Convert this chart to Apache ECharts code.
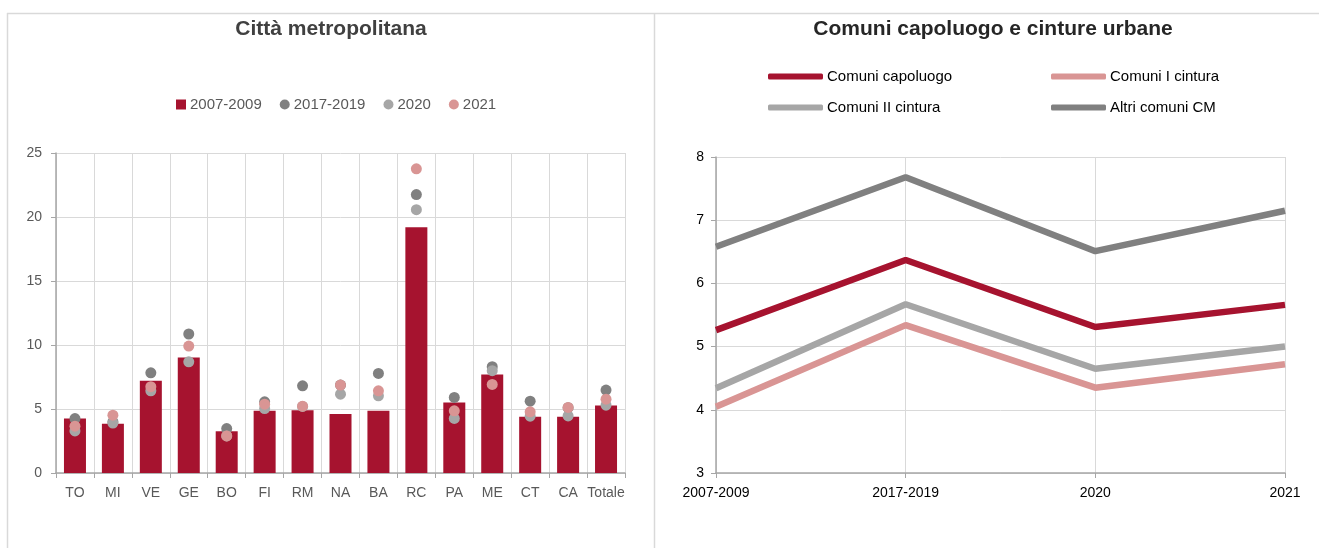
<!DOCTYPE html>
<html>
<head>
<meta charset="utf-8">
<script src="https://cdn.jsdelivr.net/npm/echarts@6/dist/echarts.min.js"></script>
<style>
  html, body { margin: 0; padding: 0; background: #fff; }
  #chart { width: 1319px; height: 558px; }
</style>
</head>
<body>
<div id="chart"></div>
<script>
// dati - grafico a sinistra (Città metropolitana)
const cities = ['TO', 'MI', 'VE', 'GE', 'BO', 'FI', 'RM', 'NA', 'BA', 'RC', 'PA', 'ME', 'CT', 'CA', 'Totale'];
const val0709 = [4.25, 3.85, 7.2, 9.03, 3.26, 4.86, 4.91, 4.6, 4.86, 19.2, 5.51, 7.7, 4.39, 4.39, 5.27];
const val1719 = [4.25, 4.0, 7.83, 10.86, 3.47, 5.56, 6.81, 6.87, 7.78, 21.75, 5.9, 8.3, 5.61, 5.1, 6.48];
const val2020 = [3.29, 3.9, 6.42, 8.69, 2.9, 5.04, 5.2, 6.16, 6.03, 20.57, 4.26, 7.99, 4.44, 4.46, 5.3];
const val2021 = [3.66, 4.52, 6.74, 9.92, 2.9, 5.38, 5.22, 6.87, 6.42, 23.76, 4.86, 6.92, 4.78, 5.12, 5.77];
const leftTicks = [0, 5, 10, 15, 20, 25];

// dati - grafico a destra (Comuni capoluogo e cinture urbane)
const periods = ['2007-2009', '2017-2019', '2020', '2021'];
const capoluogo = [5.26, 6.37, 5.31, 5.66];
const cintura1 = [4.05, 5.34, 4.35, 4.72];
const cintura2 = [4.34, 5.67, 4.65, 5.0];
const altriCM = [6.58, 7.68, 6.51, 7.15];
const rightTicks = [3, 4, 5, 6, 7, 8];

const FONT = '"Liberation Sans", Arial, sans-serif';
const RED = '#A6132F';
const DARK = '#808080';
const GRAY = '#A6A6A6';
const PINK = '#D99594';
const GRID_LINE = '#D9D9D9';
const AXIS_LINE = '#A6A6A6';

const chart = echarts.init(document.getElementById('chart'));

const option = {
    animation: false,
    textStyle: { fontFamily: FONT },
    title: [
        {
            text: 'Città metropolitana',
            left: 331, top: 19, padding: 0, textAlign: 'center',
            textStyle: { fontFamily: FONT, fontSize: 21, fontWeight: 'bold', color: '#404040' }
        },
        {
            text: 'Comuni capoluogo e cinture urbane',
            left: 993, top: 19, padding: 0, textAlign: 'center',
            textStyle: { fontFamily: FONT, fontSize: 21, fontWeight: 'bold', color: '#262626' }
        }
    ],
    legend: [
        {
            left: 176, top: 97, padding: 0,
            itemWidth: 10, itemHeight: 10, itemGap: 18,
            textStyle: { fontFamily: FONT, fontSize: 15, color: '#595959', padding: [0, 0, 0, -1] },
            data: [
                { name: '2007-2009', icon: 'rect' },
                { name: '2017-2019', icon: 'circle' },
                { name: '2020', icon: 'circle' },
                { name: '2021', icon: 'circle' }
            ]
        },
        {
            orient: 'vertical', left: 768, top: 69, padding: 0,
            itemWidth: 55, itemHeight: 6, itemGap: 16,
            textStyle: { fontFamily: FONT, fontSize: 15, color: '#000', padding: [0, 0, 0, -1] },
            data: [
                { name: 'Comuni capoluogo', icon: 'roundRect' },
                { name: 'Comuni II cintura', icon: 'roundRect' }
            ]
        },
        {
            orient: 'vertical', left: 1051, top: 69, padding: 0,
            itemWidth: 55, itemHeight: 6, itemGap: 16,
            textStyle: { fontFamily: FONT, fontSize: 15, color: '#000', padding: [0, 0, 0, -1] },
            data: [
                { name: 'Comuni I cintura', icon: 'roundRect' },
                { name: 'Altri comuni CM', icon: 'roundRect' }
            ]
        }
    ],
    grid: [
        { left: 56, right: 694, top: 153, bottom: 85 },
        { left: 716, right: 34, top: 157, bottom: 85 }
    ],
    xAxis: [
        {
            type: 'category', gridIndex: 0, data: cities, boundaryGap: true,
            axisLine: { lineStyle: { color: AXIS_LINE, width: 1.5 } },
            axisTick: { show: true, length: 5, lineStyle: { color: AXIS_LINE } },
            splitLine: { show: true, lineStyle: { color: GRID_LINE } },
            axisLabel: { interval: 0, margin: 13, color: '#595959', fontSize: 14, fontFamily: FONT }
        },
        {
            type: 'category', gridIndex: 1, data: periods, boundaryGap: false,
            axisLine: { lineStyle: { color: AXIS_LINE, width: 1.5 } },
            axisTick: { show: true, length: 5, lineStyle: { color: AXIS_LINE } },
            splitLine: { show: true, lineStyle: { color: GRID_LINE } },
            axisLabel: { interval: 0, margin: 13, color: '#000', fontSize: 14, fontFamily: FONT }
        }
    ],
    yAxis: [
        {
            type: 'value', gridIndex: 0,
            min: leftTicks[0], max: leftTicks[leftTicks.length - 1], interval: 5,
            axisLine: { show: true, lineStyle: { color: AXIS_LINE, width: 1.5 } },
            axisTick: { show: true, length: 5, lineStyle: { color: AXIS_LINE } },
            splitLine: { lineStyle: { color: GRID_LINE } },
            axisLabel: { margin: 14, color: '#595959', fontSize: 14, fontFamily: FONT }
        },
        {
            type: 'value', gridIndex: 1,
            min: rightTicks[0], max: rightTicks[rightTicks.length - 1], interval: 1,
            axisLine: { show: true, lineStyle: { color: AXIS_LINE, width: 1.5 } },
            axisTick: { show: true, length: 5, lineStyle: { color: AXIS_LINE } },
            splitLine: { lineStyle: { color: GRID_LINE } },
            axisLabel: { margin: 12, color: '#000', fontSize: 14, fontFamily: FONT }
        }
    ],
    series: [
        {
            name: '2007-2009', type: 'bar', xAxisIndex: 0, yAxisIndex: 0,
            data: val0709, barWidth: 22, itemStyle: { color: RED }
        },
        {
            name: '2017-2019', type: 'scatter', xAxisIndex: 0, yAxisIndex: 0,
            data: val1719, symbolSize: 11, itemStyle: { color: DARK, opacity: 1 }
        },
        {
            name: '2020', type: 'scatter', xAxisIndex: 0, yAxisIndex: 0,
            data: val2020, symbolSize: 11, itemStyle: { color: GRAY, opacity: 1 }
        },
        {
            name: '2021', type: 'scatter', xAxisIndex: 0, yAxisIndex: 0,
            data: val2021, symbolSize: 11, itemStyle: { color: PINK, opacity: 1 }
        },
        {
            name: 'Altri comuni CM', type: 'line', xAxisIndex: 1, yAxisIndex: 1,
            data: altriCM, symbol: 'none', lineStyle: { color: DARK, width: 6.5 }, itemStyle: { color: DARK }
        },
        {
            name: 'Comuni capoluogo', type: 'line', xAxisIndex: 1, yAxisIndex: 1,
            data: capoluogo, symbol: 'none', lineStyle: { color: RED, width: 6.5 }, itemStyle: { color: RED }
        },
        {
            name: 'Comuni II cintura', type: 'line', xAxisIndex: 1, yAxisIndex: 1,
            data: cintura2, symbol: 'none', lineStyle: { color: GRAY, width: 6.5 }, itemStyle: { color: GRAY }
        },
        {
            name: 'Comuni I cintura', type: 'line', xAxisIndex: 1, yAxisIndex: 1,
            data: cintura1, symbol: 'none', lineStyle: { color: PINK, width: 6.5 }, itemStyle: { color: PINK }
        }
    ],
    // cornici dei pannelli
    graphic: [
        { type: 'line', shape: { x1: 7, y1: 13.5, x2: 1319, y2: 13.5 }, style: { stroke: GRID_LINE, lineWidth: 1.5 }, silent: true },
        { type: 'line', shape: { x1: 7.5, y1: 13, x2: 7.5, y2: 548 }, style: { stroke: GRID_LINE, lineWidth: 1.5 }, silent: true },
        { type: 'line', shape: { x1: 654.5, y1: 13, x2: 654.5, y2: 548 }, style: { stroke: GRID_LINE, lineWidth: 1.5 }, silent: true }
    ]
};

chart.setOption(option);
</script>
</body>
</html>
